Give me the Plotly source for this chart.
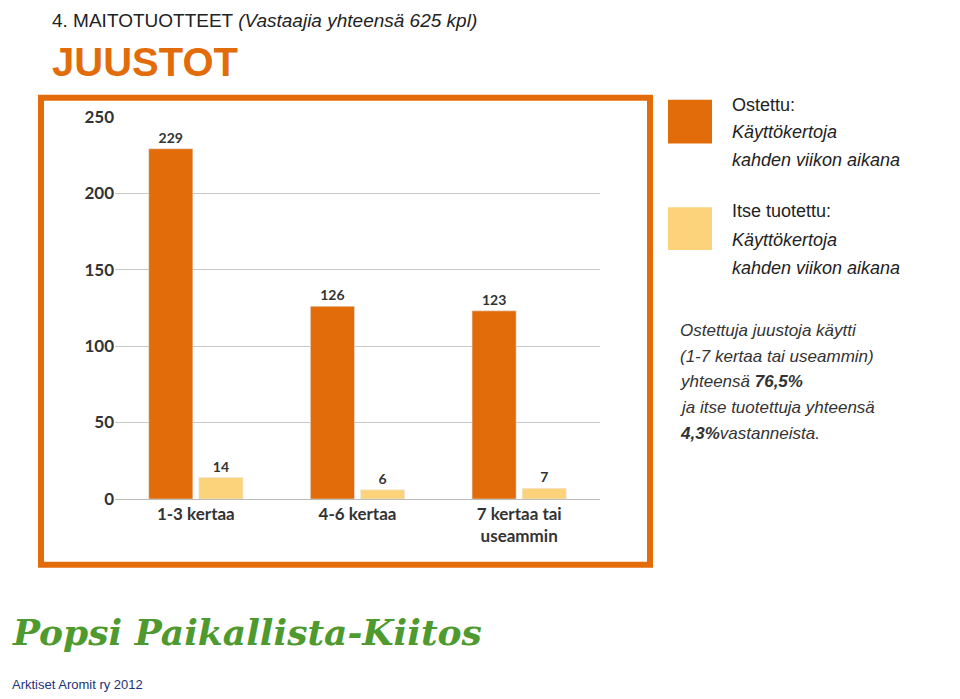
import plotly.graph_objects as go

categories = ["1-3 kertaa", "4-6 kertaa", "7 kertaa tai<br>useammin"]
ostettu = [229, 126, 123]
itse = [14, 6, 7]
yticks = [0, 50, 100, 150, 200, 250]

W, H = 960, 699
def px(x): return (x - 8) / W
def py(y): return 1 - ((y - 17) / 0.974) / H

ORANGE = "#E36C0A"
YELLOW = "#FCD27A"
lblfont = dict(family="Lato", size=14, color="#333", weight="bold")

fig = go.Figure()
fig.add_bar(x=categories, y=ostettu, marker_color=ORANGE, text=ostettu,
            textposition="outside", textfont=lblfont, cliponaxis=False, name="Ostettu")
fig.add_bar(x=categories, y=itse, marker_color=YELLOW, text=itse,
            textposition="outside", textfont=lblfont, cliponaxis=False, name="Itse")

tickfont = dict(size=17, family="Lato", color="#333", weight="bold")
fig.update_layout(
    width=W, height=H, margin=dict(l=0, r=0, t=0, b=0),
    plot_bgcolor="white", paper_bgcolor="white", showlegend=False,
    barmode="group", bargap=0.38, bargroupgap=0.12,
    font=dict(family="Lato", color="#333"),
    xaxis=dict(domain=[px(115), px(600)], showline=True, linecolor="#bbb",
               tickfont=tickfont, ticks=""),
    yaxis=dict(domain=[py(499), py(115)], range=[0, 250], tickvals=yticks,
               gridcolor="#c8c8c8", tickfont=tickfont, zeroline=False),
)

shapes = [dict(type="rect", xref="paper", yref="paper", x0=px(41), x1=px(650),
               y0=py(565), y1=py(96), line=dict(color=ORANGE, width=6))]
shapes.append(dict(type="rect", xref="paper", yref="paper", x0=px(668), x1=px(712),
                   y0=py(142), y1=py(98), fillcolor=ORANGE, line_width=0))
shapes.append(dict(type="rect", xref="paper", yref="paper", x0=px(668), x1=px(712),
                   y0=py(249), y1=py(206), fillcolor=YELLOW, line_width=0))
fig.update_layout(shapes=shapes)

def txt(x, y, s, size=17, color="#222", family="Liberation Sans"):
    fig.add_annotation(xref="paper", yref="paper", x=px(x), y=py(y), text=s,
                       showarrow=False, xanchor="left", yanchor="middle", align="left",
                       font=dict(size=size, color=color, family=family))

txt(50, 19, "4. MAITOTUOTTEET <i>(Vastaajia yhteensä 625 kpl)</i>", size=19)
txt(50, 60, "<b>JUUSTOT</b>", size=40, color=ORANGE)
for y, s in [(103, "Ostettu:"), (130, "<i>Käyttökertoja</i>"), (159, "<i>kahden viikon aikana</i>"),
             (210, "Itse tuotettu:"), (239, "<i>Käyttökertoja</i>"), (267, "<i>kahden viikon aikana</i>")]:
    txt(730, y, s, size=18)
for y, s in [(330, "<i>Ostettuja juustoja käytti</i>"), (356, "<i>(1-7 kertaa tai useammin)</i>"),
             (381, "<i>yhteensä <b>76,5%</b></i>"), (407, "<i>ja itse tuotettuja yhteensä</i>"),
             (433, "<i><b>4,3%</b>vastanneista.</i>")]:
    txt(678, y, s, size=17, color="#333")
txt(10, 633, "<b><i>Popsi Paikallista-Kiitos</i></b>", size=36, color="#4E9A2E", family="DejaVu Serif")
txt(10, 685, "Arktiset Aromit ry 2012", size=13, color="#223377")

fig.write_html("out.html")
